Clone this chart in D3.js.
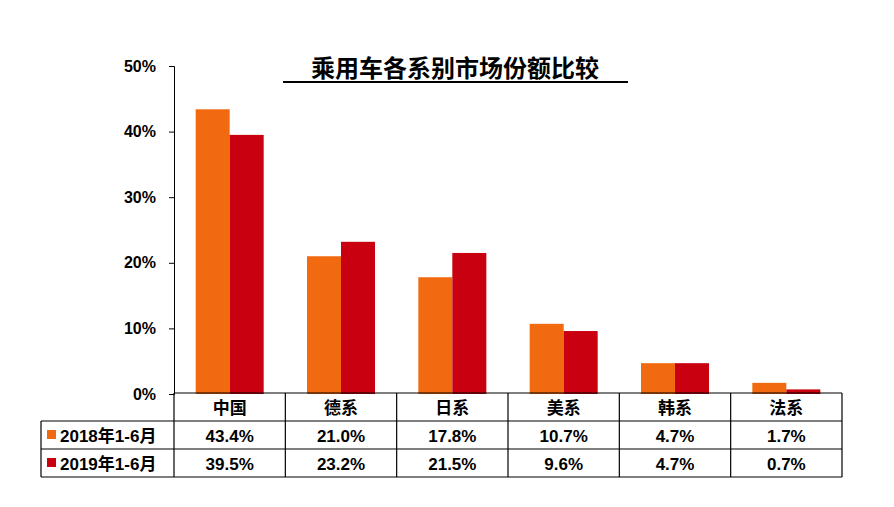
<!DOCTYPE html><html><head><meta charset="utf-8"><script src="https://d3js.org/d3.v7.min.js"></script>
<style>body{margin:0;background:#fff}text{font-family:Arial,"Liberation Sans","Noto Sans CJK SC",sans-serif;font-weight:bold}</style></head><body><svg id="c" width="894" height="507"></svg>
<script>
const categories=["中国","德系","日系","美系","韩系","法系"];
const seriesNames=["2018年1-6月","2019年1-6月"];
const s2018=[43.4,21.0,17.8,10.7,4.7,1.7];
const s2019=[39.5,23.2,21.5,9.6,4.7,0.7];
const yTicks=[0,10,20,30,40,50];
const colors=["#F26A10","#C8000F"];
const svg=d3.select("#c");
const L=174,R=842,T=66,B=394;
const x=d3.scaleBand().domain(categories).range([L,R]);
const y=d3.scaleLinear().domain([0,50]).range([B,T]);
const data=[s2018,s2019];
const bw=34;
data.forEach((s,si)=>{
 svg.append("g").selectAll("rect").data(s).join("rect")
  .attr("x",(d,i)=>x(categories[i])+x.bandwidth()/2-bw+si*bw)
  .attr("width",bw).attr("y",d=>y(d)).attr("height",d=>B-y(d)).attr("fill",colors[si]);
});
const ya=svg.append("g").attr("transform",`translate(${L},0)`).call(d3.axisLeft(y).tickValues(yTicks).tickFormat(d=>d+"%").tickSize(5));
ya.select(".domain").attr("stroke","#000");
ya.selectAll("text").attr("font-size",16).attr("x",-18).attr("fill","#000");
svg.append("text").attr("x",455).attr("y",77).attr("text-anchor","middle").attr("font-size",24).text("乘用车各系别市场份额比较");
svg.append("line").attr("x1",283).attr("x2",628).attr("y1",82).attr("y2",82).attr("stroke","#000").attr("stroke-width",2);
// table
const rows=[393,421,449,477];const TL=41;
const g=svg.append("g").attr("stroke","#000").attr("stroke-width",1.2);
g.append("line").attr("x1",L).attr("x2",R).attr("y1",rows[0]).attr("y2",rows[0]);
rows.slice(1).forEach(r=>g.append("line").attr("x1",TL).attr("x2",R).attr("y1",r).attr("y2",r));
g.append("line").attr("x1",TL).attr("x2",TL).attr("y1",rows[1]).attr("y2",rows[3]);
[...categories.map(c=>x(c)),R].forEach(v=>g.append("line").attr("x1",v).attr("x2",v).attr("y1",rows[0]).attr("y2",rows[3]));
categories.forEach((c,i)=>{
 svg.append("text").attr("x",x(c)+x.bandwidth()/2).attr("y",rows[0]+21).attr("text-anchor","middle").attr("font-size",17).text(c);
 data.forEach((s,si)=>svg.append("text").attr("x",x(c)+x.bandwidth()/2).attr("y",rows[si+1]+21).attr("text-anchor","middle").attr("font-size",17).text(s[i].toFixed(1)+"%"));
});
seriesNames.forEach((n,si)=>{
 svg.append("rect").attr("x",47).attr("y",rows[si+1]+9).attr("width",9).attr("height",9).attr("fill",colors[si]);
 svg.append("text").attr("x",60).attr("y",rows[si+1]+21).attr("font-size",17).text(n);
});
</script></body></html>
